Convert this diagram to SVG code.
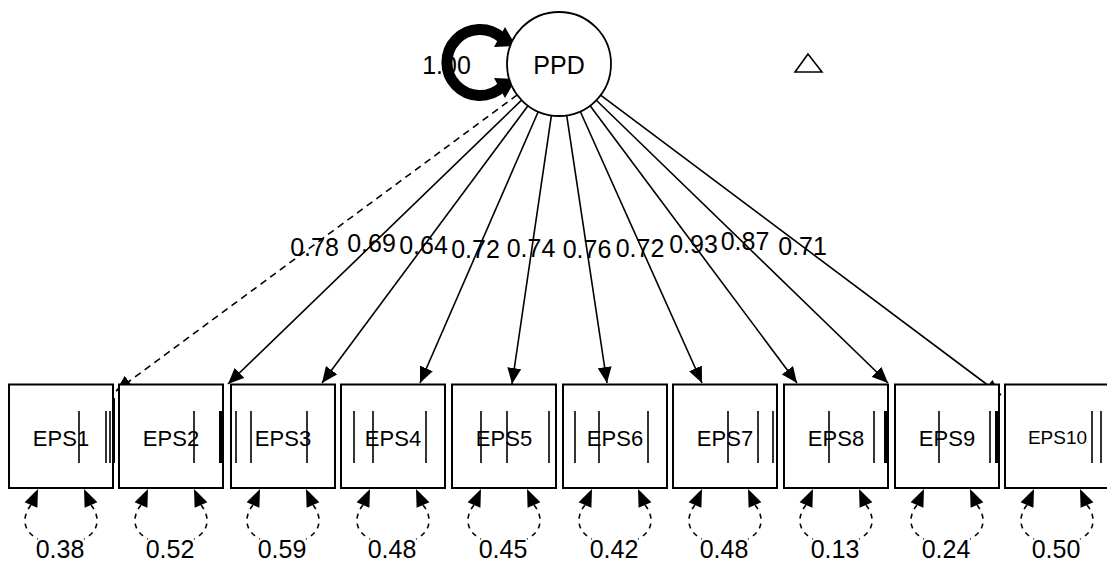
<svg xmlns="http://www.w3.org/2000/svg" xmlns:xlink="http://www.w3.org/1999/xlink" width="1107" height="562" viewBox="0 0 1107 562">
  <style>
    .t { font-family: "Liberation Sans", Arial, sans-serif; fill: #000; text-anchor: middle; }
    .box { fill: #fff; stroke: #000; stroke-width: 2; }
    .tick { stroke: #000; stroke-width: 1.6; }
    .path { stroke: #000; stroke-width: 1.6; fill: none; }
    .dash { stroke-dasharray: 7 5; }
    .vdash { stroke: #000; stroke-width: 1.6; fill: none; stroke-dasharray: 5 5; }
  </style>
  <defs>
    <marker id="ah" markerUnits="userSpaceOnUse" markerWidth="16" markerHeight="14" refX="16" refY="7" orient="auto">
      <path d="M0,0 L16,7 L0,14 z" fill="#000"/>
    </marker>
    <!-- variance loop under a box, drawn about x = 0 -->
    <g id="varloop">
      <polygon points="-23,489 -23.6,507.8 -36.4,502.2" fill="#000"/>
      <polygon points="23,489 23.6,507.8 36.4,502.2" fill="#000"/>
      <path class="vdash" d="M -30 505 C -39 516, -39 531, -23 539"/>
      <path class="vdash" d="M 30 505 C 39 516, 39 531, 23 539"/>
    </g>
  </defs>

  <rect width="1107" height="562" fill="#fff"/>

  <!-- connectors -->
  <g id="connectors">
    <!-- variance of PPD -->
    <g id="ppd-variance">
      <path d="M 502 38 A 33 33 0 1 0 502 87" fill="none" stroke="#000" stroke-width="11"/>
      <polygon points="516,46 494,47 505,27" fill="#000"/>
      <polygon points="516,79 494,78 505,98" fill="#000"/>
    </g>
    <!-- loadings -->
    <line class="path dash" x1="517.2" y1="94.9" x2="116" y2="391" marker-end="url(#ah)"/>
    <line class="path" x1="521.6" y1="100.1" x2="228" y2="384" marker-end="url(#ah)"/>
    <line class="path" x1="528.0" y1="105.7" x2="322" y2="383" marker-end="url(#ah)"/>
    <line class="path" x1="538.2" y1="111.7" x2="420" y2="383" marker-end="url(#ah)"/>
    <line class="path" x1="551.4" y1="115.4" x2="512" y2="384" marker-end="url(#ah)"/>
    <line class="path" x1="566.7" y1="115.4" x2="607" y2="383" marker-end="url(#ah)"/>
    <line class="path" x1="580.3" y1="111.5" x2="702" y2="383" marker-end="url(#ah)"/>
    <line class="path" x1="590.1" y1="105.7" x2="797" y2="383" marker-end="url(#ah)"/>
    <line class="path" x1="596.3" y1="100.2" x2="888" y2="383" marker-end="url(#ah)"/>
    <line class="path" x1="600.6" y1="95.2" x2="1001" y2="395" marker-end="url(#ah)"/>
    <!-- error variances -->
    <use xlink:href="#varloop" x="61"/>
    <use xlink:href="#varloop" x="171"/>
    <use xlink:href="#varloop" x="283"/>
    <use xlink:href="#varloop" x="393"/>
    <use xlink:href="#varloop" x="504"/>
    <use xlink:href="#varloop" x="615"/>
    <use xlink:href="#varloop" x="725"/>
    <use xlink:href="#varloop" x="836"/>
    <use xlink:href="#varloop" x="947"/>
    <use xlink:href="#varloop" x="1057"/>
  </g>

  <!-- latent factor -->
  <g id="PPD">
    <circle cx="559" cy="64" r="52" fill="#fff" stroke="#000" stroke-width="1.8"/>
    <text class="t" x="559" y="74" font-size="25">PPD</text>
  </g>
  <text class="t" x="446.5" y="74" font-size="25">1.00</text>

  <!-- identification marker -->
  <polygon points="808,54 795,72 822,72" fill="#fff" stroke="#000" stroke-width="1.6"/>

  <!-- loading estimates -->
  <g id="loadings" font-size="25">
    <text class="t" x="314.5" y="256">0.78</text>
    <text class="t" x="371.5" y="252">0.69</text>
    <text class="t" x="423.5" y="254">0.64</text>
    <text class="t" x="475.5" y="258">0.72</text>
    <text class="t" x="531" y="257">0.74</text>
    <text class="t" x="587" y="258">0.76</text>
    <text class="t" x="640" y="257">0.72</text>
    <text class="t" x="693.5" y="253">0.93</text>
    <text class="t" x="745" y="250">0.87</text>
    <text class="t" x="802.5" y="255">0.71</text>
  </g>

  <!-- observed indicators -->
  <g id="EPS1">
    <rect class="box" x="9" y="384.5" width="104" height="103.5"/>
    <line class="tick" x1="79" y1="411" x2="79" y2="463"/>
    <line class="tick" x1="106" y1="411" x2="106" y2="463"/>
    <line class="tick" x1="110" y1="411" x2="110" y2="463"/>
    <rect x="112" y="398" width="3" height="65" fill="#000"/>
    <text class="t" x="61" y="446" font-size="22">EPS1</text>
  </g>
  <g id="EPS2">
    <rect class="box" x="119" y="384.5" width="104" height="103.5"/>
    <line class="tick" x1="194" y1="411" x2="194" y2="463"/>
    <rect x="219" y="411" width="4" height="52" fill="#000"/>
    <text class="t" x="171" y="446" font-size="22">EPS2</text>
  </g>
  <g id="EPS3">
    <rect class="box" x="231" y="384.5" width="104" height="103.5"/>
    <line class="tick" x1="236" y1="411" x2="236" y2="463"/>
    <line class="tick" x1="251" y1="411" x2="251" y2="463"/>
    <line class="tick" x1="307" y1="411" x2="307" y2="463"/>
    <text class="t" x="283" y="446" font-size="22">EPS3</text>
  </g>
  <g id="EPS4">
    <rect class="box" x="341" y="384.5" width="104" height="103.5"/>
    <line class="tick" x1="354" y1="411" x2="354" y2="463"/>
    <line class="tick" x1="373" y1="411" x2="373" y2="463"/>
    <line class="tick" x1="426" y1="411" x2="426" y2="463"/>
    <text class="t" x="393" y="446" font-size="22">EPS4</text>
  </g>
  <g id="EPS5">
    <rect class="box" x="452" y="384.5" width="104" height="103.5"/>
    <line class="tick" x1="481" y1="411" x2="481" y2="463"/>
    <line class="tick" x1="507" y1="411" x2="507" y2="463"/>
    <line class="tick" x1="549" y1="411" x2="549" y2="463"/>
    <text class="t" x="504" y="446" font-size="22">EPS5</text>
  </g>
  <g id="EPS6">
    <rect class="box" x="563" y="384.5" width="104" height="103.5"/>
    <line class="tick" x1="575" y1="411" x2="575" y2="463"/>
    <line class="tick" x1="599" y1="411" x2="599" y2="463"/>
    <line class="tick" x1="648" y1="411" x2="648" y2="463"/>
    <text class="t" x="615" y="446" font-size="22">EPS6</text>
  </g>
  <g id="EPS7">
    <rect class="box" x="673" y="384.5" width="104" height="103.5"/>
    <line class="tick" x1="728" y1="411" x2="728" y2="463"/>
    <line class="tick" x1="758" y1="411" x2="758" y2="463"/>
    <line class="tick" x1="773" y1="411" x2="773" y2="463"/>
    <text class="t" x="725" y="446" font-size="22">EPS7</text>
  </g>
  <g id="EPS8">
    <rect class="box" x="784" y="384.5" width="104" height="103.5"/>
    <line class="tick" x1="829" y1="411" x2="829" y2="463"/>
    <line class="tick" x1="874" y1="411" x2="874" y2="463"/>
    <rect x="884" y="411" width="3" height="52" fill="#000"/>
    <text class="t" x="836" y="446" font-size="22">EPS8</text>
  </g>
  <g id="EPS9">
    <rect class="box" x="895" y="384.5" width="104" height="103.5"/>
    <line class="tick" x1="939" y1="411" x2="939" y2="463"/>
    <line class="tick" x1="990" y1="411" x2="990" y2="463"/>
    <rect x="995" y="411" width="3" height="52" fill="#000"/>
    <text class="t" x="947" y="446" font-size="22">EPS9</text>
  </g>
  <g id="EPS10">
    <rect class="box" x="1005" y="384.5" width="104" height="103.5"/>
    <line class="tick" x1="1092" y1="411" x2="1092" y2="463"/>
    <line class="tick" x1="1101" y1="411" x2="1101" y2="463"/>
    <text class="t" x="1057.5" y="444" font-size="19">EPS10</text>
  </g>

  <!-- error variance estimates -->
  <g id="variances" font-size="25">
    <text class="t" x="60" y="558">0.38</text>
    <text class="t" x="170" y="558">0.52</text>
    <text class="t" x="282" y="558">0.59</text>
    <text class="t" x="392" y="558">0.48</text>
    <text class="t" x="503" y="558">0.45</text>
    <text class="t" x="614" y="558">0.42</text>
    <text class="t" x="724" y="558">0.48</text>
    <text class="t" x="835" y="558">0.13</text>
    <text class="t" x="946" y="558">0.24</text>
    <text class="t" x="1056" y="558">0.50</text>
  </g>
</svg>
